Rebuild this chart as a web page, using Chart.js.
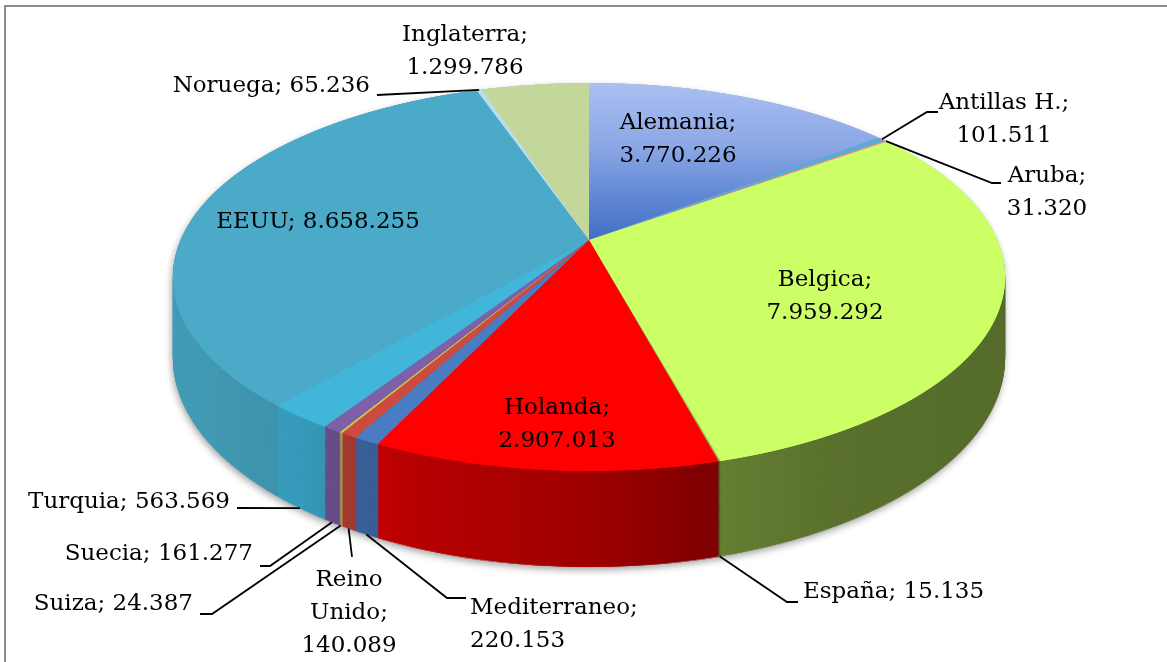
<!DOCTYPE html>
<html lang="es">
<head>
<meta charset="UTF-8">
<title>Exportaciones por destino</title>
<script src="https://cdn.jsdelivr.net/npm/chart.js"></script>
<style>
  html, body { margin: 0; padding: 0; background: #ffffff; }
  #pie { display: block; }
</style>
</head>
<body>
<canvas id="pie" width="1167" height="662"></canvas>
<script>
// destinations, clockwise from 12 o'clock
const countries = ['Alemania', 'Antillas H.', 'Aruba', 'Belgica', 'España', 'Holanda', 'Mediterraneo',
  'Reino Unido', 'Suiza', 'Suecia', 'Turquia', 'EEUU', 'Noruega', 'Inglaterra'];
const volumes = [3770226, 101511, 31320, 7959292, 15135, 2907013, 220153,
  140089, 24387, 161277, 563569, 8658255, 65236, 1299786];
const sliceColors = ['#8eaae4', '#5ea9d9', '#ef937e', '#ccff66', '#9bbb59', '#ff0000', '#4a7cc4',
  '#cc4a3e', '#d2c24c', '#7e60a8', '#42b5da', '#4aaac7', '#b9dde9', '#c4d79b'];

const W = 1167, H = 662;

// tilted disc seen in perspective: centre, half axes, foreshortening and wall height (px)
const VIEW = { cx: 589, cy: 240, a: 408.4, b: 186.9, q: 0.1907, depth: 77.7 };

// wall darkening from the left edge to the right edge of the disc
const wallShade = [[0, 0.08], [0.15, 0.15], [0.28, 0.28], [0.5, 0.38], [0.64, 0.5], [0.8, 0.56], [1, 0.58]];

// label placement: wrap 1 = one line, 2 = value on second line, 3 = every word on its own line
// leader = points from the text towards the slice; at = 'rim' (top edge) or 'base' (bottom of wall)
const labelLayout = [
  { x: 678, y: 123, align: 'center', wrap: 2 },
  { x: 1004, y: 103, align: 'center', wrap: 2, leader: [[938, 112], [927, 112]], at: 'rim' },
  { x: 1047, y: 176, align: 'center', wrap: 2, leader: [[1001, 183], [992, 183]], at: 'rim' },
  { x: 825, y: 280, align: 'center', wrap: 2 },
  { x: 803, y: 592, align: 'left', wrap: 1, leader: [[798, 602], [787, 602]], at: 'base' },
  { x: 557, y: 408, align: 'center', wrap: 2 },
  { x: 470, y: 608, align: 'left', wrap: 2, leader: [[466, 598], [447, 598]], at: 'base' },
  { x: 349, y: 580, align: 'center', wrap: 3, leader: [[352, 557]], at: 'base' },
  { x: 193, y: 604, align: 'right', wrap: 1, leader: [[200, 614], [212, 614]], at: 'base' },
  { x: 253, y: 554, align: 'right', wrap: 1, leader: [[260, 566], [270, 566]], at: 'base' },
  { x: 230, y: 502, align: 'right', wrap: 1, leader: [[237, 508]], at: 'base' },
  { x: 318, y: 222, align: 'center', wrap: 1 },
  { x: 370, y: 86, align: 'right', wrap: 1, leader: [[377, 95]], at: 'rim' },
  { x: 465, y: 35, align: 'center', wrap: 2 }
];
const LINE_H = 33;

const fmt = v => String(v).replace(/\B(?=(\d{3})+(?!\d))/g, '.');

function labelLines(i) {
  const name = countries[i], val = fmt(volumes[i]);
  const wrap = labelLayout[i].wrap;
  if (wrap === 1) return [name + '; ' + val];
  if (wrap === 3) {
    const words = name.split(' ');
    const last = words.pop();
    return [...words, last + ';', val];
  }
  return [name + ';', val];
}

// offscreen layers: top face and outer wall
const topLayer = document.createElement('canvas');
topLayer.width = W; topLayer.height = H;
const topCtx = topLayer.getContext('2d');
const wallLayer = document.createElement('canvas');
wallLayer.width = W; wallLayer.height = H;
const wallCtx = wallLayer.getContext('2d');

// Alemania gets a light-to-dark gradient towards the centre
function sliceFill(c) {
  const i = c.dataIndex ?? 0;
  if (i !== 0) return sliceColors[i];
  const area = c.chart.chartArea;
  if (!area) return sliceColors[0];
  const cy = (area.top + area.bottom) / 2;
  const r = Math.min(area.right - area.left, area.bottom - area.top) / 2;
  const g = topCtx.createLinearGradient(0, cy - r, 0, cy);
  g.addColorStop(0, '#abc0f0');
  g.addColorStop(0.45, '#8ba7e6');
  g.addColorStop(1, '#416fc4');
  return g;
}

// screen point of a slice angle on the rim (z = 0) or at the foot of the wall (z = depth)
function project(angle, z) {
  const s = Math.cos(angle), t = Math.sin(angle);
  const k = 1 / (1 - VIEW.q * t);
  return { x: VIEW.cx + VIEW.a * s * k, y: VIEW.cy + (VIEW.b * t + z) * k };
}

// draw the flat pie arcs row by row, each row with its own local scale
function paintTop(g, arcs) {
  const ax = arcs[0].x, ay = arcs[0].y, r = arcs[0].outerRadius;
  const y0 = Math.floor(VIEW.cy - VIEW.b / (1 + VIEW.q)) - 1;
  const y1 = Math.ceil(VIEW.cy + VIEW.b / (1 - VIEW.q)) + 1;
  for (let y = y0; y < y1; y++) {
    const dy = y + 0.5 - VIEW.cy;
    const t = dy / (VIEW.b + VIEW.q * dy);
    const k = 1 / (1 - VIEW.q * t);
    const sx = VIEW.a * k / r, sy = VIEW.b * k * k / r;
    g.save();
    g.beginPath();
    g.rect(0, y, W, 1);
    g.clip();
    g.setTransform(sx, 0, 0, sy, VIEW.cx - sx * ax, y + 0.5 - sy * (ay + t * r));
    for (let pass = 0; pass < 2; pass++) arcs.forEach(arc => arc.draw(g));
    g.restore();
  }
}

// stack the top face downwards to build the wall, then shade it
function paintWall(g, top) {
  const bx = 150, by = 70, bw = 880, bh = 420;
  for (let z = VIEW.depth; z > 0; z -= 1) {
    const m = 1 + z * VIEW.q / VIEW.b;
    g.setTransform(1, 0, 0, m, 0, z - z * VIEW.q * VIEW.cy / VIEW.b);
    g.drawImage(top, bx, by, bw, bh, bx, by, bw, bh);
  }
  g.setTransform(1, 0, 0, 1, 0, 0);
  g.globalCompositeOperation = 'source-atop';
  const shade = g.createLinearGradient(173, 0, 1005, 0);
  wallShade.forEach(([p, a]) => shade.addColorStop(p, 'rgba(0,0,0,' + a + ')'));
  g.fillStyle = shade;
  g.fillRect(0, 0, W, H);
  g.globalCompositeOperation = 'source-over';
}

const tiltedPie = {
  id: 'tiltedPie',
  beforeDatasetsDraw(chart) {
    const arcs = chart.getDatasetMeta(0).data;
    topCtx.clearRect(0, 0, W, H);
    wallCtx.clearRect(0, 0, W, H);
    paintTop(topCtx, arcs);
    paintWall(wallCtx, topLayer);

    const ctx = chart.ctx;
    ctx.save();
    ctx.shadowColor = 'rgba(0,0,0,0.35)';
    ctx.shadowBlur = 7;
    ctx.shadowOffsetX = -1;
    ctx.shadowOffsetY = 3;
    ctx.drawImage(wallLayer, 0, 0);
    ctx.restore();
    ctx.drawImage(topLayer, 0, 0);
    return false;
  },
  afterDraw(chart) {
    const ctx = chart.ctx;
    const arcs = chart.getDatasetMeta(0).data;
    ctx.save();

    // chart frame
    ctx.fillStyle = '#8c8c8c';
    ctx.fillRect(4, 5, 2, H - 5);
    ctx.fillRect(4, 5, W - 4, 2);

    // leader lines
    ctx.strokeStyle = '#000000';
    ctx.lineWidth = 1.8;
    labelLayout.forEach((lay, i) => {
      if (!lay.leader) return;
      const arc = arcs[i];
      const p = project((arc.startAngle + arc.endAngle) / 2, lay.at === 'base' ? VIEW.depth : 0);
      ctx.beginPath();
      ctx.moveTo(lay.leader[0][0], lay.leader[0][1]);
      lay.leader.slice(1).forEach(pt => ctx.lineTo(pt[0], pt[1]));
      ctx.lineTo(p.x, p.y);
      ctx.stroke();
    });

    // data labels
    ctx.fillStyle = '#000000';
    ctx.font = '23px "DejaVu Serif"';
    ctx.textBaseline = 'middle';
    labelLayout.forEach((lay, i) => {
      ctx.textAlign = lay.align;
      labelLines(i).forEach((line, n) => ctx.fillText(line, lay.x, lay.y + n * LINE_H));
    });
    ctx.restore();
  }
};

new Chart(document.getElementById('pie'), {
  type: 'pie',
  data: {
    labels: countries,
    datasets: [{
      data: volumes,
      backgroundColor: sliceFill,
      borderWidth: 0
    }]
  },
  options: {
    responsive: false,
    animation: false,
    events: [],
    layout: { padding: 0 },
    plugins: {
      legend: { display: false },
      tooltip: { enabled: false }
    }
  },
  plugins: [tiltedPie]
});
</script>
</body>
</html>
